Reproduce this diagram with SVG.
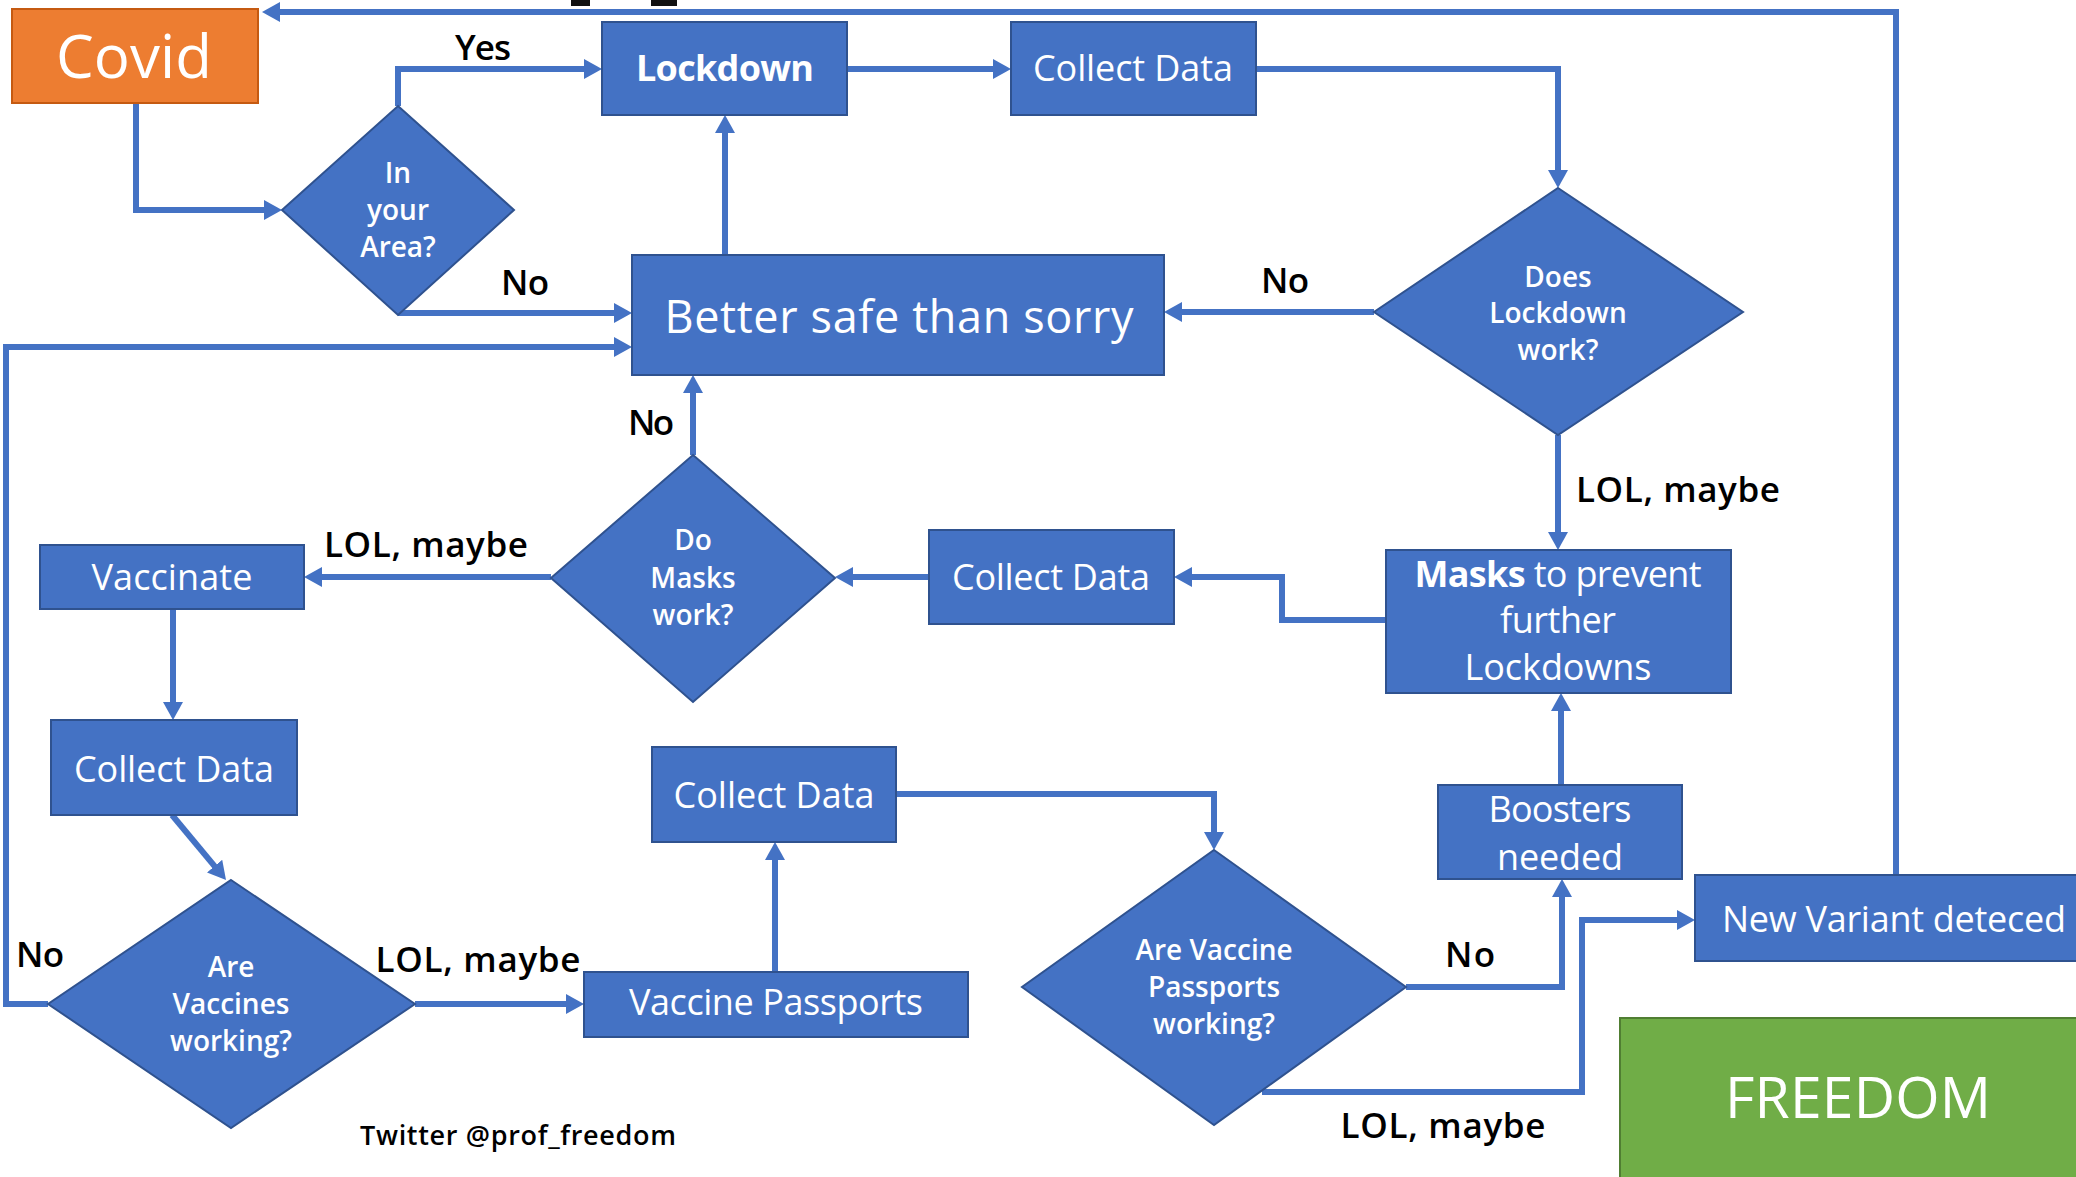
<svg xmlns="http://www.w3.org/2000/svg" width="2076" height="1177" viewBox="0 0 2076 1177">
<defs>
<style>
.box{fill:#4472C4;stroke:#2F528F;stroke-width:2}
.wt{fill:#fff;font-family:"Open Sans","Noto Sans",sans-serif;text-anchor:middle}
.bx{font-size:36px}
.dq{font-size:28px;font-weight:600}
.lbl{fill:#000;font-family:"Open Sans","Noto Sans",sans-serif;font-weight:600;font-size:35px;text-anchor:middle}
#connectors path{fill:none;stroke:#4472C4;stroke-width:6;marker-end:url(#ah)}
</style>
<marker id="ah" viewBox="0 0 18 20" refX="2" refY="10" markerWidth="18" markerHeight="20" markerUnits="userSpaceOnUse" orient="auto">
<path d="M0,0 L18,10 L0,20 z" fill="#4472C4"/>
</marker>
</defs>
<rect width="2076" height="1177" fill="#fff"/>
<rect x="571" y="0" width="19" height="6" fill="#111"/>
<rect x="651" y="0" width="26" height="6" fill="#111"/>

<g id="connectors">
<path d="M136,103 V210 H266"/>
<path d="M398,106 V69 H586"/>
<path d="M398,313 H616"/>
<path d="M847,69 H995"/>
<path d="M1256,69 H1558 V172"/>
<path d="M1374,312 H1180"/>
<path d="M725,255 V131"/>
<path d="M1558,435 V534"/>
<path d="M1386,620 H1282 V577 H1190"/>
<path d="M929,577 H851"/>
<path d="M693,455 V391"/>
<path d="M551,577 H320"/>
<path d="M173,609 V704"/>
<path d="M172,815 L215.8,867.7"/>
<path d="M48,1004 H6 V347 H616"/>
<path d="M415,1004 H568"/>
<path d="M775,972 V858"/>
<path d="M896,794 H1214 V834"/>
<path d="M1406,987 H1562 V895"/>
<path d="M1262,1092 H1582 V920 H1679"/>
<path d="M1561,785 V709"/>
<path d="M1896,875 V12 H278"/>
</g>

<g id="labels">
<text class="lbl" x="483" y="60" textLength="56">Yes</text>
<text class="lbl" x="525" y="295" textLength="48">No</text>
<text class="lbl" x="1285" y="293" textLength="48">No</text>
<text class="lbl" x="1678" y="502" textLength="204">LOL, maybe</text>
<text class="lbl" x="651" y="435" textLength="46">No</text>
<text class="lbl" x="426" y="557" textLength="204">LOL, maybe</text>
<text class="lbl" x="40" y="967" textLength="48">No</text>
<text class="lbl" x="478" y="972" textLength="205">LOL, maybe</text>
<text class="lbl" x="1470" y="967" textLength="50">No</text>
<text class="lbl" x="1443" y="1138" textLength="205">LOL, maybe</text>
<text class="lbl" x="518" y="1145" style="font-size:27px" textLength="316">Twitter @prof_freedom</text>
</g>

<g id="covid">
<rect x="12" y="9" width="246" height="94" fill="#ED7D31" stroke="#C55A11" stroke-width="2"/>
<text class="wt" x="134" y="78" style="font-size:60px" textLength="156">Covid</text>
</g>

<g id="in-your-area">
<polygon class="box" points="398,106 514,210 398,315 282,210"/>
<text class="wt dq" x="398" y="183">In</text>
<text class="wt dq" x="398" y="220">your</text>
<text class="wt dq" x="398" y="257">Area?</text>
</g>

<g id="lockdown">
<rect class="box" x="602" y="22" width="245" height="93"/>
<text class="wt bx" x="725" y="81" style="font-weight:700" textLength="178">Lockdown</text>
</g>

<g id="collect-data-1">
<rect class="box" x="1011" y="22" width="245" height="93"/>
<text class="wt bx" x="1133" y="81" textLength="200">Collect Data</text>
</g>

<g id="better-safe">
<rect class="box" x="632" y="255" width="532" height="120"/>
<text class="wt" x="899" y="333" style="font-size:45px" textLength="469">Better safe than sorry</text>
</g>

<g id="does-lockdown-work">
<polygon class="box" points="1558,188 1743,312 1558,435 1374,312"/>
<text class="wt dq" x="1558" y="287">Does</text>
<text class="wt dq" x="1558" y="323">Lockdown</text>
<text class="wt dq" x="1558" y="360">work?</text>
</g>

<g id="masks">
<rect class="box" x="1386" y="550" width="345" height="143"/>
<text class="wt bx" x="1558" y="587" textLength="287"><tspan style="font-weight:700">Masks</tspan> to prevent</text>
<text class="wt bx" x="1558" y="633" textLength="116">further</text>
<text class="wt bx" x="1558" y="680" textLength="187">Lockdowns</text>
</g>

<g id="collect-data-2">
<rect class="box" x="929" y="530" width="245" height="94"/>
<text class="wt bx" x="1051" y="590" textLength="198">Collect Data</text>
</g>

<g id="do-masks-work">
<polygon class="box" points="693,455 835,578 693,702 551,578"/>
<text class="wt dq" x="693" y="550">Do</text>
<text class="wt dq" x="693" y="588">Masks</text>
<text class="wt dq" x="693" y="625">work?</text>
</g>

<g id="vaccinate">
<rect class="box" x="40" y="545" width="264" height="64"/>
<text class="wt bx" x="172" y="590" textLength="161">Vaccinate</text>
</g>

<g id="collect-data-3">
<rect class="box" x="51" y="720" width="246" height="95"/>
<text class="wt bx" x="174" y="782" textLength="200">Collect Data</text>
</g>

<g id="are-vaccines-working">
<polygon class="box" points="231,880 415,1004 231,1128 48,1004"/>
<text class="wt dq" x="231" y="977">Are</text>
<text class="wt dq" x="231" y="1014">Vaccines</text>
<text class="wt dq" x="231" y="1051">working?</text>
</g>

<g id="vaccine-passports">
<rect class="box" x="584" y="972" width="384" height="65"/>
<text class="wt bx" x="776" y="1015" textLength="294">Vaccine Passports</text>
</g>

<g id="collect-data-4">
<rect class="box" x="652" y="747" width="244" height="95"/>
<text class="wt bx" x="774" y="808" textLength="201">Collect Data</text>
</g>

<g id="are-vaccine-passports-working">
<polygon class="box" points="1214,850 1406,987 1214,1125 1022,987"/>
<text class="wt dq" x="1214" y="960">Are Vaccine</text>
<text class="wt dq" x="1214" y="997">Passports</text>
<text class="wt dq" x="1214" y="1034">working?</text>
</g>

<g id="boosters">
<rect class="box" x="1438" y="785" width="244" height="94"/>
<text class="wt bx" x="1560" y="822" textLength="143">Boosters</text>
<text class="wt bx" x="1560" y="870" textLength="126">needed</text>
</g>

<g id="new-variant">
<rect class="box" x="1695" y="875" width="390" height="86"/>
<text class="wt bx" x="1894" y="932" textLength="344">New Variant deteced</text>
</g>

<g id="freedom">
<rect x="1620" y="1018" width="470" height="170" fill="#70AD47" stroke="#507E32" stroke-width="2"/>
<text class="wt" x="1858" y="1118" style="font-size:57px" textLength="266">FREEDOM</text>
</g>
</svg>
